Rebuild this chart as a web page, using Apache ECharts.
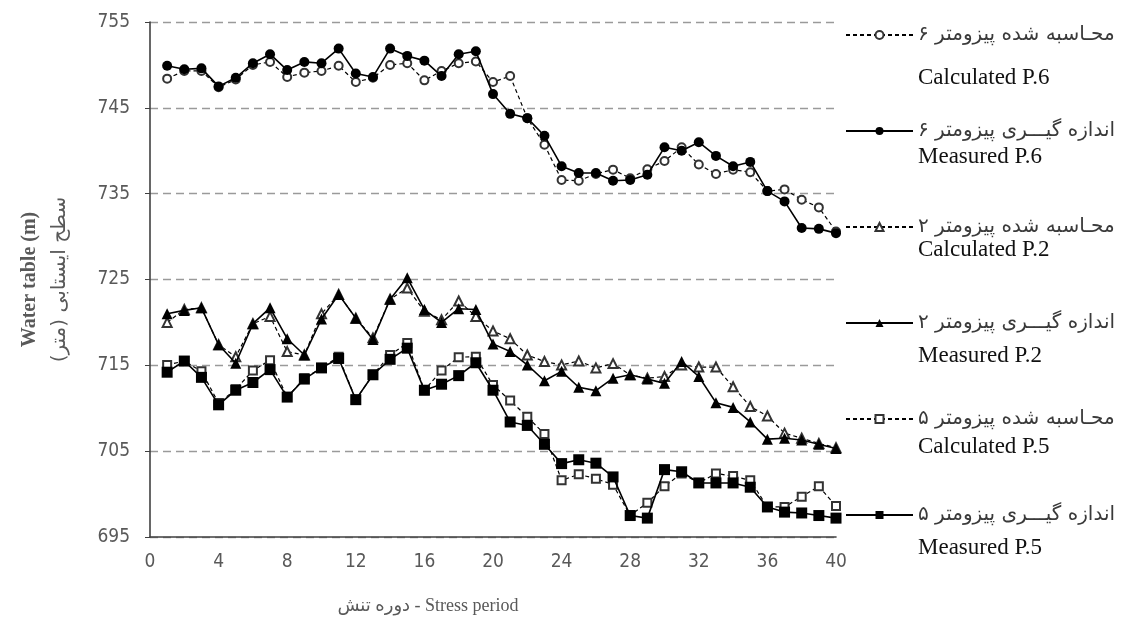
<!DOCTYPE html>
<html>
<head>
<meta charset="utf-8">
<script src="https://cdn.jsdelivr.net/npm/echarts@6/dist/echarts.min.js"></script>
<style>
html,body{margin:0;padding:0;background:#fff;}
#chart{width:1129px;height:632px;}
</style>
</head>
<body>
<div id="chart"></div>
<script>
// Stress periods
const periods = [1,2,3,4,5,6,7,8,9,10,11,12,13,14,15,16,17,18,19,20,21,22,23,24,25,26,27,28,29,30,31,32,33,34,35,36,37,38,39,40];

// Series names (Persian legend text) and English sub-labels
const seriesNames = ['محـاسبه شده پیزومتر ۶','اندازه گیـــری پیزومتر ۶','محـاسبه شده پیزومتر ۲','اندازه گیـــری پیزومتر ۲','محـاسبه شده پیزومتر ۵','اندازه گیـــری پیزومتر ۵'];
const englishNames = ['Calculated P.6','Measured P.6','Calculated P.2','Measured P.2','Calculated P.5','Measured P.5'];

// Values (m)
const calcP6 = [748.4,749.3,749.3,747.4,748.3,750.0,750.35,748.6,749.1,749.3,749.9,748.0,748.5,750.0,750.2,748.2,749.3,750.2,750.4,748.0,748.7,743.8,740.7,736.6,736.5,737.3,737.8,736.8,737.85,738.8,740.4,738.4,737.3,737.8,737.5,735.3,735.5,734.3,733.4,730.6];
const measP6 = [749.9,749.5,749.6,747.5,748.5,750.2,751.25,749.4,750.35,750.2,751.9,749.0,748.6,751.9,751.05,750.5,748.7,751.25,751.6,746.6,744.3,743.8,741.75,738.2,737.4,737.4,736.5,736.6,737.2,740.4,740.0,741.0,739.4,738.2,738.7,735.3,734.1,731.0,730.9,730.4];
const calcP2 = [720.0,721.5,721.7,717.4,716.0,719.85,720.7,716.6,716.2,721.0,723.25,720.5,718.2,722.7,724.0,721.3,720.3,722.5,720.7,719.0,718.1,716.2,715.45,715.05,715.5,714.7,715.2,713.9,713.5,713.7,715.05,714.8,714.8,712.5,710.2,709.1,707.1,706.5,705.9,705.4];
const measP2 = [721.0,721.4,721.7,717.4,715.25,719.85,721.7,718.1,716.2,720.4,723.25,720.5,718.0,722.7,725.2,721.5,720.0,721.6,721.5,717.5,716.6,715.05,713.2,714.3,712.45,712.05,713.5,713.9,713.4,712.9,715.45,713.7,710.65,710.1,708.4,706.4,706.5,706.3,705.8,705.3];
const calcP5 = [715.05,715.5,714.3,710.6,712.2,714.4,715.6,711.3,713.5,714.7,716.0,711.0,713.9,716.2,717.6,712.1,714.4,715.95,716.0,712.7,710.9,709.0,707.0,701.6,702.3,701.8,701.1,697.5,699.0,700.9,702.4,701.3,702.4,702.1,701.6,698.5,698.5,699.7,700.9,698.6];
const measP5 = [714.2,715.5,713.6,710.4,712.1,713.0,714.5,711.3,713.4,714.7,715.8,711.0,713.9,715.7,717.0,712.1,712.8,713.8,715.3,712.1,708.4,708.0,705.8,703.55,704.0,703.6,702.0,697.5,697.2,702.85,702.6,701.3,701.3,701.3,700.8,698.5,697.9,697.8,697.5,697.2];

// Axis ticks
const xTicks = [0,4,8,12,16,20,24,28,32,36,40];
const yTicks = [695,705,715,725,735,745,755];

const seriesValues = [calcP6, measP6, calcP2, measP2, calcP5, measP5];
const symbols = ['emptyCircle','circle','emptyTriangle','triangle','emptyRect','rect'];
const symbolSizes = [8,10,9,11,8,11];
const dashed = [true,false,true,false,true,false];

const chart = echarts.init(document.getElementById('chart'), null, {renderer:'canvas'});

const series = seriesValues.map((vals, i) => ({
  name: seriesNames[i],
  type: 'line',
  data: periods.map((p, j) => [p, vals[j]]),
  symbol: symbols[i],
  symbolSize: symbolSizes[i],
  showAllSymbol: true,
  z: dashed[i] ? 2 : 3,
  lineStyle: dashed[i] ? {color:'#000', width:1.2, type:[4,3]} : {color:'#000', width:1.6, type:'solid'},
  itemStyle: dashed[i] ? {color:'#333', borderColor:'#333', borderWidth:1.4} : {color:'#000', borderColor:'#000', borderWidth:0},
  emphasis: {disabled:true}
}));

const numFont = "'Liberation Sans Narrow','Arial Narrow','DejaVu Sans Condensed',sans-serif";
const englishY = [78, 157, 250, 356, 447, 548];

const option = {
  animation: false,
  backgroundColor: '#fff',
  grid: {left:150, top:22, right:293, bottom:95},
  legend: {
    orient: 'vertical',
    left: 845,
    top: 25,
    padding: 0,
    itemWidth: 67,
    itemHeight: 10,
    itemGap: 76,
    data: seriesNames,
    selectedMode: false,
    textStyle: {fontFamily:"'DejaVu Sans',sans-serif", fontSize:20, color:'#3a3a3a', lineHeight:20}
  },
  xAxis: {
    type: 'value',
    min: 0, max: 40, interval: 4,
    name: 'دوره تنش - Stress period',
    nameLocation: 'middle',
    nameGap: 60,
    nameTextStyle: {fontFamily:"'Liberation Serif','DejaVu Sans',serif", fontSize:18, color:'#595959', padding:[0,130,0,0]},
    axisLine: {show:true, lineStyle:{color:'#404040', width:1.6}},
    axisTick: {show:false},
    splitLine: {show:false},
    axisLabel: {margin:16, fontFamily:numFont, fontSize:19, color:'#595959',
      customValues: xTicks}
  },
  yAxis: {
    type: 'value',
    min: 695, max: 755, interval: 10,
    name: '{en|Water table (m)}\n{fa|سطح ایستابی (متر)}',
    nameLocation: 'middle',
    nameRotate: 90,
    nameGap: 76,
    nameTextStyle: {
      rich: {
        en: {fontFamily:"'Liberation Serif',serif", fontWeight:'bold', fontSize:20, color:'#595959', lineHeight:32},
        fa: {fontFamily:"'DejaVu Sans',sans-serif", fontSize:20, color:'#595959', lineHeight:28}
      }
    },
    axisLine: {show:true, lineStyle:{color:'#404040', width:1.6}},
    axisTick: {show:true, inside:false, length:5, lineStyle:{color:'#404040', width:1}},
    splitLine: {show:true, lineStyle:{color:'#9a9a9a', width:1.3, type:[8,5]}},
    axisLabel: {margin:20, fontFamily:numFont, fontSize:19, color:'#595959'}
  },
  graphic: englishNames.map((t, i) => ({
    type: 'text',
    x: 918,
    y: englishY[i],
    style: {text: t, font: "23px 'Liberation Serif', serif", fill: '#111', verticalAlign: 'middle', align: 'left'}
  })),
  series: series
};

chart.setOption(option);
</script>
</body>
</html>
